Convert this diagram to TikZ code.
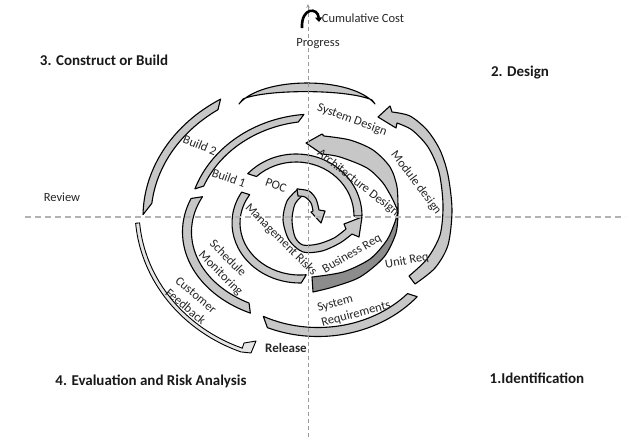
\documentclass[tikz,border=0pt]{standalone}
\usepackage{fontspec}
\setmainfont{Carlito}
\usetikzlibrary{calc,arrows.meta}

% band along an ellipse: centre, rx, ry, width, outer from, outer to, inner to, inner from
\newcommand{\ringband}[8]{%
  \draw[band] ($(#1)+(#5:#2 and #3)$) arc[start angle=#5, end angle=#6, x radius=#2, y radius=#3]
    -- ($(#1)+(#7:{#2-#4} and {#3-#4})$) arc[start angle=#7, end angle=#8, x radius=#2-#4, y radius=#3-#4] -- cycle;}

\begin{document}
\begin{tikzpicture}[x=1pt, y=-1pt,
  band/.style={draw=black, line width=1.1pt, fill=black!22, line join=round},
  darkband/.style={band, fill=black!45},
  thinband/.style={band, line width=0.9pt, fill=black!10},
  haxis/.style={draw=black!30, line width=1.6pt, dash pattern=on 6pt off 4pt},
  vaxis/.style={draw=black!40, line width=0.8pt, dash pattern=on 4pt off 3pt},
  lbl/.style={font=\fontsize{12.5}{15.5}\selectfont, text=black!85, inner sep=0pt},
  quad/.style={font=\bfseries\fontsize{15}{17}\selectfont, text=black!90, inner sep=0pt}]

\useasboundingbox (0,0) rectangle (634,437);

% outer top crescent
\draw[band] (239,104) .. controls (262,76) and (352,76) .. (375,104) -- (372,100) .. controls (348,89) and (266,89) .. (243,99) -- cycle;

% left side
\ringband{308,217}{165}{139}{8}{181}{238}{235}{186}
\ringband{315,225}{127}{111}{7}{199}{265}{262}{202}
\ringband{300,232}{117.5}{89.5}{9}{202}{115}{118}{206}
\ringband{300,223}{68}{60}{8}{211}{89}{84}{213}

% inner POC arc
\ringband{296,216}{66}{62}{8}{223}{360}{360}{227}

% bottom
\ringband{318,225}{129.5}{111.5}{9}{113}{40}{42}{117}

% customer feedback
\draw[thinband] ($(300,210)+(175:165 and 152)$) arc[start angle=175, end angle=111, x radius=165, y radius=152]
  -- (251,353) -- (256,341) -- (244,343)
  -- ($(300,210)+(111:161 and 148)$) arc[start angle=111, end angle=175, x radius=161, y radius=148] -- cycle;

% module design arrow
\draw[band] plot[smooth] coordinates {(392,112) (410,116) (427,130) (440,150) (448,175) (452,210) (448,245) (435,268) (415,284)}
  -- plot[smooth] coordinates {(409,276) (427,259) (440,235) (443,205) (439,172) (428,147) (412,130) (397,123)}
  -- (396,128) -- (378,117) -- (390,106) -- cycle;

% architecture design ribbon
\draw[darkband] plot[smooth] coordinates {(398,211) (396,233) (384,257) (360,277) (333,287) (313,292)}
  -- plot[smooth] coordinates {(312,277) (343,272) (370,259) (387,240) (395,222) (398,211)} -- cycle;
\draw[band] (306,143) -- (322,134) -- plot[smooth] coordinates {(324,136) (350,140) (373,150) (390,167) (397,187) (398,211)}
  -- plot[smooth] coordinates {(393,200) (383,183) (367,168) (340,157) (322,154)} -- cycle;

% centre spiral
\draw[band] plot[smooth] coordinates {(298,189) (287,201) (283,220) (289,240) (303,252) (322,251) (340,243) (352,234)}
  -- (359,237) -- (362,217) -- (344,224)
  -- plot[smooth] coordinates {(346,229) (334,238) (318,244) (303,245) (295,237) (292,220) (295,204) (303,195)} -- cycle;
\draw[band] plot[smooth] coordinates {(297,189) (309,191) (316,199) (319,210)}
  -- (325,211) -- (321,223) -- (311,212)
  -- plot[smooth] coordinates {(313,211) (311,203) (305,197) (298,196)} -- cycle;

% axes
\draw[haxis] (25,217) -- (625,217);
\draw[vaxis, -{Stealth[length=4pt, width=3.5pt]}] (308,437) -- (308,4);
\draw[line width=2.6pt, -{Triangle[length=4.5pt, width=7pt]}] (302,28) .. controls (301,7) and (318,7) .. (319,22);

% texts
\node[lbl] (cost) at (363,18) {Cumulative Cost};
\node[lbl] (progress) at (318,44) {Progress};
\node[quad] (build) at (104,60) {3. Construct or Build};
\node[quad] (design) at (520,73) {2. Design};
\node[lbl] (review) at (62,197) {Review};
\node[quad] (evaluation) at (151,381) {4. Evaluation and Risk Analysis};
\node[quad] (identification) at (537,378) {1.Identification};
\node[lbl, font=\bfseries\fontsize{13}{15}\selectfont] (release) at (286,348) {Release};

\node[lbl, rotate=-20] (sysdesign) at (352,120) {System Design};
\node[lbl, rotate=-53] (module) at (416,183) {Module design};
\node[lbl, rotate=-38] (archi) at (358,183) {Architecture Design};
\node[lbl, rotate=-22] (build2) at (200,145) {Build 2};
\node[lbl, rotate=-20] (build1) at (229,178) {Build 1};
\node[lbl, rotate=-20] (poc) at (276,185) {POC};
\node[lbl, rotate=-45] (mgmt) at (281,240) {Management Risks};
\node[lbl, rotate=30] (business) at (352,254) {Business Req};
\node[lbl, rotate=10] (unitreq) at (407,261) {Unit Req};
\node[lbl, rotate=15, align=left] (sysreq) at (354,307) {System\\Requirements};
\node[lbl, rotate=-45, align=left] (schedule) at (226,268) {Schedule\\Monitoring};
\node[lbl, rotate=-40, align=left] (customer) at (191,301) {Customer\\Feedback};

\end{tikzpicture}
\end{document}
